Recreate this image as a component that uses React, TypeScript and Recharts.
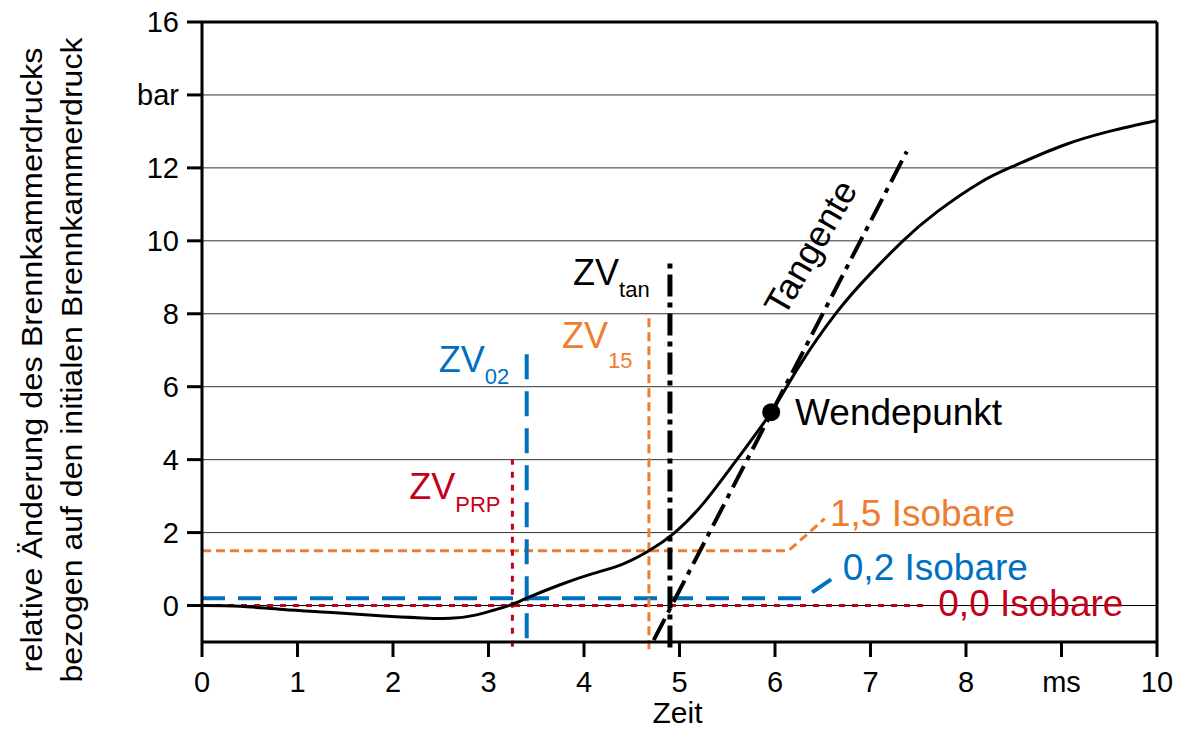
import {
  ComposedChart, Line, XAxis, YAxis, CartesianGrid, ReferenceLine, ReferenceDot
} from 'recharts'

const FONT = "'Liberation Sans', Arial, sans-serif"
const BLUE = '#0070C0'
const ORANGE = '#ED7D31'
const RED = '#C5001A'

// Zeit in ms / relative Druckänderung in bar
const timeMs = [0, 0.4, 0.85, 1.4, 1.9, 2.3, 2.6, 2.85, 3.05, 3.25, 3.4, 3.75, 4.1, 4.4, 4.68, 4.95, 5.25, 5.6, 5.96, 6.25, 6.65, 7.0, 7.34, 7.7, 8.15, 8.5, 9.0, 9.5, 10]
const pressure = [0, -0.02, -0.11, -0.2, -0.29, -0.34, -0.35, -0.27, -0.13, 0.03, 0.2, 0.57, 0.88, 1.13, 1.5, 2.0, 2.8, 4.0, 5.3, 6.55, 8.05, 9.1, 10.0, 10.8, 11.6, 12.05, 12.6, 13.0, 13.3]

const xTicks = [0, 1, 2, 3, 4, 5, 6, 7, 8, 9, 10]
const yTicks = [0, 2, 4, 6, 8, 10, 12, 14, 16]

// isobar polylines (horizontal part + leader to the label)
const iso15X = [0, 6.14, 6.52]
const iso15Y = [1.5, 1.5, 2.38]
const iso02X = [0, 6.3, 6.66]
const iso02Y = [0.2, 0.2, 0.85]
const iso00X = [0, 7.55]
const iso00Y = [0, 0]

// ignition delay markers: x, bottom, top
const zvPrp = [3.25, -1.13, 4.0]
const zv02 = [3.4, -0.9, 7.0]
const zv15 = [4.68, -1.2, 7.9]
const zvTan = [4.9, -1.15, 9.4]

// tangent through the inflection point
const tangentX = [4.73, 7.38]
const tangentY = [-0.95, 12.45]
const inflection = { x: 5.96, y: 5.3 }

const curveData = timeMs.map((t, i) => ({ x: t, y: pressure[i] }))
const toPts = (xs: number[], ys: number[]) => xs.map((x, i) => ({ x, y: ys[i] }))

function textMark(
  parts: { main: string; sub?: string; subDy?: number },
  color: string,
  size = 37,
  rotate = 0
) {
  return (p: { cx?: number; cy?: number }) => {
    const cx = p.cx ?? 0
    const cy = p.cy ?? 0
    if (rotate) {
      return (
        <text
          transform={`translate(${cx},${cy}) rotate(${rotate})`}
          textAnchor="middle"
          dominantBaseline="central"
          fill={color}
          fontSize={size}
          fontFamily={FONT}
        >
          {parts.main}
        </text>
      )
    }
    return (
      <text x={cx} y={cy} fill={color} fontSize={size} fontFamily={FONT}>
        <tspan>{parts.main}</tspan>
        {parts.sub && (
          <tspan dy={parts.subDy ?? 12} fontSize={22}>{parts.sub}</tspan>
        )}
      </text>
    )
  }
}

function YTitle() {
  return (
    <g fontFamily={FONT} fontSize={30} fill="#000">
      <text
        transform="translate(42,360) rotate(-90)"
        textAnchor="middle"
        textLength={625}
        lengthAdjust="spacingAndGlyphs"
      >
        relative Änderung des Brennkammerdrucks
      </text>
      <text
        transform="translate(82,360) rotate(-90)"
        textAnchor="middle"
        textLength={645}
        lengthAdjust="spacingAndGlyphs"
      >
        bezogen auf den initialen Brennkammerdruck
      </text>
    </g>
  )
}

function XTitle(props: { viewBox?: { x: number; y: number; width: number; height: number } }) {
  const vb = props.viewBox
  if (!vb) return null
  return (
    <text
      x={vb.x + vb.width / 2 - 2}
      y={723}
      textAnchor="middle"
      fontFamily={FONT}
      fontSize={30}
      fill="#000"
    >
      Zeit
    </text>
  )
}

function vSeg(m: number[]) {
  return [{ x: m[0], y: m[1] }, { x: m[0], y: m[2] }]
}

export default function App() {
  return (
    <div style={{ position: 'absolute', left: 0, top: 0, background: '#fff' }}>
      <ComposedChart
        width={1180}
        height={729}
        margin={{ top: 22, right: 23, left: 0, bottom: 0 }}
      >
        <CartesianGrid horizontal vertical={false} stroke="#333" strokeWidth={1} />
        <XAxis
          type="number"
          dataKey="x"
          domain={[0, 10]}
          ticks={xTicks}
          interval={0}
          allowDataOverflow
          height={87}
          tickSize={15}
          tickMargin={14}
          axisLine={{ stroke: '#000', strokeWidth: 3 }}
          tickLine={{ stroke: '#000', strokeWidth: 3 }}
          tick={{ fill: '#000', fontSize: 29, fontFamily: FONT }}
          tickFormatter={v => (v === 9 ? 'ms' : String(v))}
          label={<XTitle />}
        />
        <YAxis
          type="number"
          domain={[-1, 16]}
          ticks={yTicks}
          interval={0}
          allowDataOverflow
          width={202}
          tickSize={15}
          tickMargin={8}
          axisLine={{ stroke: '#000', strokeWidth: 3 }}
          tickLine={{ stroke: '#000', strokeWidth: 3 }}
          tick={{ fill: '#000', fontSize: 29, fontFamily: FONT }}
          tickFormatter={v => (v === 14 ? 'bar' : String(v))}
          label={<YTitle />}
        />

        <ReferenceLine y={16} stroke="#000" strokeWidth={3} />
        <ReferenceLine x={10} stroke="#000" strokeWidth={3} />
        <ReferenceLine y={0} stroke="#000" strokeWidth={1} />

        <Line data={toPts(iso00X, iso00Y)} dataKey="y" type="linear" stroke={RED} strokeWidth={3} strokeDasharray="6 7" dot={false} isAnimationActive={false} />
        <Line data={toPts(iso02X, iso02Y)} dataKey="y" type="linear" stroke={BLUE} strokeWidth={4} strokeDasharray="23 13" dot={false} isAnimationActive={false} />
        <Line data={toPts(iso15X, iso15Y)} dataKey="y" type="linear" stroke={ORANGE} strokeWidth={3} strokeDasharray="9 5" dot={false} isAnimationActive={false} />

        <ReferenceLine segment={vSeg(zvPrp)} ifOverflow="visible" stroke={RED} strokeWidth={3} strokeDasharray="6 7" />
        <ReferenceLine segment={vSeg(zv02)} ifOverflow="visible" stroke={BLUE} strokeWidth={4} strokeDasharray="25 12" />
        <ReferenceLine segment={vSeg(zv15)} ifOverflow="visible" stroke={ORANGE} strokeWidth={3} strokeDasharray="9 5" />
        <ReferenceLine segment={vSeg(zvTan)} ifOverflow="visible" stroke="#000" strokeWidth={5} strokeDasharray="22 6 5 6" />
        <ReferenceLine
          segment={toPts(tangentX, tangentY)}
          ifOverflow="visible"
          stroke="#000"
          strokeWidth={4}
          strokeDasharray="24 7 5 7"
        />

        <Line data={curveData} dataKey="y" type="natural" stroke="#000" strokeWidth={3} dot={false} isAnimationActive={false} />

        <ReferenceDot x={inflection.x} y={inflection.y} r={9} fill="#000" stroke="none" ifOverflow="visible" />

        <ReferenceDot x={6.21} y={4.96} ifOverflow="visible" shape={textMark({ main: 'Wendepunkt' }, '#000')} />
        <ReferenceDot x={6.37} y={9.82} ifOverflow="visible" shape={textMark({ main: 'Tangente' }, '#000', 36, -60)} />
        <ReferenceDot x={6.576} y={2.17} ifOverflow="visible" shape={textMark({ main: '1,5 Isobare' }, ORANGE)} />
        <ReferenceDot x={6.71} y={0.71} ifOverflow="visible" shape={textMark({ main: '0,2 Isobare' }, BLUE)} />
        <ReferenceDot x={7.71} y={-0.3} ifOverflow="visible" shape={textMark({ main: '0,0 Isobare' }, RED)} />
        <ReferenceDot x={3.885} y={8.8} ifOverflow="visible" shape={textMark({ main: 'ZV', sub: 'tan', subDy: 12 }, '#000', 36)} />
        <ReferenceDot x={3.77} y={7.07} ifOverflow="visible" shape={textMark({ main: 'ZV', sub: '15', subDy: 20 }, ORANGE, 36)} />
        <ReferenceDot x={2.48} y={6.39} ifOverflow="visible" shape={textMark({ main: 'ZV', sub: '02', subDy: 12 }, BLUE, 36)} />
        <ReferenceDot x={2.17} y={2.91} ifOverflow="visible" shape={textMark({ main: 'ZV', sub: 'PRP', subDy: 13 }, RED, 36)} />
      </ComposedChart>
    </div>
  )
}
